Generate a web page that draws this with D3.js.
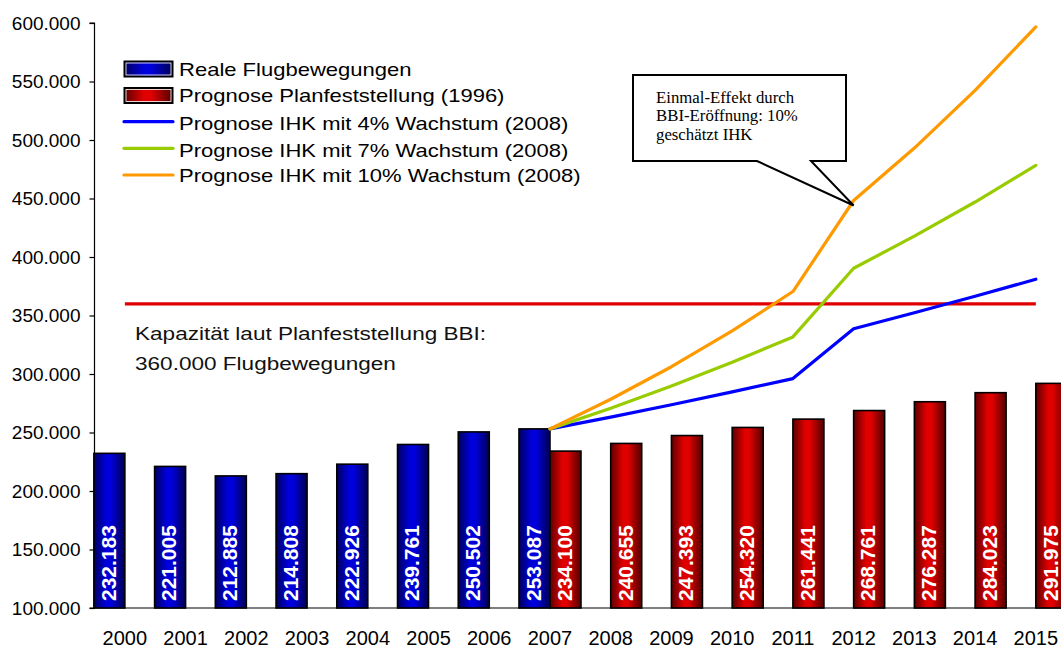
<!DOCTYPE html>
<html>
<head>
<meta charset="utf-8">
<title>Flugbewegungen BBI</title>
<script src="https://cdn.jsdelivr.net/npm/d3@7"></script>
<style>
	body { margin: 0; background: #fff; }
	svg { display: block; font-family: "Liberation Sans", Arial, sans-serif; }
</style>
</head>
<body>
<svg width="1061" height="650"></svg>
<script>
var app = app || {};

// data
var years = ["2000","2001","2002","2003","2004","2005","2006","2007",
	"2008","2009","2010","2011","2012","2013","2014","2015"];
var realMoves = [232183, 221005, 212885, 214808, 222926, 239761, 250502, 253087,
	null, null, null, null, null, null, null, null];
var planForecast = [null, null, null, null, null, null, null, 234100,
	240655, 247393, 254320, 261441, 268761, 276287, 284023, 291975];
var ihk4 = [null, null, null, null, null, null, null, 253087,
	263200, 273700, 284700, 296100, 338700, 352300, 366400, 381000];
var ihk7 = [null, null, null, null, null, null, null, 253087,
	270800, 289800, 310000, 331700, 390400, 417800, 447000, 478300];
var ihk10 = [null, null, null, null, null, null, null, 253087,
	278400, 306200, 336800, 370500, 448300, 493100, 542400, 596700];
var capacity = 360000;
var yTicks = [100000, 150000, 200000, 250000, 300000, 350000, 400000, 450000, 500000, 550000, 600000];

var legendLabels = ["Reale Flugbewegungen", "Prognose Planfeststellung (1996)",
	"Prognose IHK mit 4% Wachstum (2008)", "Prognose IHK mit 7% Wachstum (2008)",
	"Prognose IHK mit 10% Wachstum (2008)"];
var noteLines = ["Einmal-Effekt durch", "BBI-Eröffnung: 10%", "geschätzt IHK"];
var capLines = ["Kapazität laut Planfeststellung BBI:", "360.000 Flugbewegungen"];

app.main = (function(){

	var fmt = function(v){ return d3.format(",")(v).replace(/,/g, "."); };

	function drawChart(){

		var svg = d3.select("svg");

		var x = d3.scaleBand().domain(years).range([94.5, 1066.2]);
		var y = d3.scaleLinear().domain([100000, 600000]).range([608, 23]);
		var barW = 31;
		var cx = function(yr){ return x(yr) + x.bandwidth() / 2; };

		// gradients for the bars
		var defs = svg.append("defs");
		function grad(id, dark, bright){
			var g = defs.append("linearGradient").attr("id", id)
				.attr("x1", "0%").attr("x2", "100%").attr("y1", "0%").attr("y2", "0%");
			g.append("stop").attr("offset", "0%").attr("stop-color", dark);
			g.append("stop").attr("offset", "40%").attr("stop-color", bright);
			g.append("stop").attr("offset", "55%").attr("stop-color", bright);
			g.append("stop").attr("offset", "100%").attr("stop-color", d3.color(dark).darker(0.4));
		}
		grad("gBlue", "#00005e", "#0000dc");
		grad("gRed", "#5e0000", "#e00000");

		// y axis
		var yAxis = svg.append("g").attr("transform", "translate(94.5,0)")
			.call(d3.axisLeft(y).tickValues(yTicks).tickSize(5).tickPadding(9).tickFormat(fmt));
		yAxis.selectAll("text").attr("font-size", 19).attr("fill", "#000").attr("font-family", null);
		yAxis.selectAll("line,path").attr("stroke", "#000").attr("stroke-width", 1.2);
		yAxis.select(".domain").attr("d", "M-5,23H0V608H-5");

		// x axis line and labels
		svg.append("line").attr("x1", 94.5).attr("x2", 1061).attr("y1", y(100000)).attr("y2", y(100000))
			.attr("stroke", "#000").attr("stroke-width", 1.2);
		svg.append("g").selectAll("text").data(years).enter().append("text")
			.attr("x", function(d){ return cx(d); })
			.attr("y", 645)
			.attr("text-anchor", "middle")
			.attr("font-size", 20)
			.text(function(d){ return d; });

		// bars
		var realData = years.map(function(d, i){ return {yr: d, v: realMoves[i]}; })
			.filter(function(d){ return d.v !== null; });
		var planData = years.map(function(d, i){ return {yr: d, v: planForecast[i]}; })
			.filter(function(d){ return d.v !== null; });

		function bars(data, fill, offset){
			var g = svg.append("g");
			g.selectAll("rect").data(data).enter().append("rect")
				.attr("x", function(d){ return cx(d.yr) + offset; })
				.attr("y", function(d){ return y(d.v); })
				.attr("width", barW)
				.attr("height", function(d){ return y(100000) - y(d.v); })
				.attr("fill", fill)
				.attr("stroke", "#000")
				.attr("stroke-width", 1.6);
			g.selectAll("text").data(data).enter().append("text")
				.attr("transform", function(d){
					return "translate(" + (cx(d.yr) + offset + barW / 2 + 6.3) + ",601) rotate(-90)";
				})
				.attr("fill", "#fff")
				.attr("font-weight", "bold")
				.attr("font-size", 21)
				.text(function(d){ return fmt(d.v); });
		}
		bars(realData, "url(#gBlue)", -barW);
		bars(planData, "url(#gRed)", 0);

		// capacity line
		svg.append("line")
			.attr("x1", cx(years[0])).attr("x2", cx(years[years.length - 1]))
			.attr("y1", y(capacity)).attr("y2", y(capacity))
			.attr("stroke", "#e00000").attr("stroke-width", 3.2);

		// forecast lines
		var series = [
			{vals: ihk4, color: "#0000ff"},
			{vals: ihk7, color: "#99cc00"},
			{vals: ihk10, color: "#ff9900"}
		];
		var line = d3.line()
			.defined(function(d){ return d.v !== null; })
			.x(function(d){ return cx(d.yr); })
			.y(function(d){ return y(d.v); });
		series.forEach(function(s){
			svg.append("path")
				.datum(years.map(function(d, i){ return {yr: d, v: s.vals[i]}; }))
				.attr("d", line)
				.attr("fill", "none")
				.attr("stroke", s.color)
				.attr("stroke-width", 3.2)
				.attr("stroke-linejoin", "round")
				.attr("stroke-linecap", "round");
		});

		// capacity text
		svg.append("g").selectAll("text").data(capLines).enter().append("text")
			.attr("transform", function(d, i){ return "translate(135," + (340 + i * 30) + ") scale(1.22,1)"; })
			.attr("font-size", 18.5)
			.attr("fill", "#111")
			.text(function(d){ return d; });

		// legend
		var lg = svg.append("g");
		var swY = [69, 95.5, 121.7, 148.3, 175];
		var txY = [75.7, 102.3, 130, 156.7, 181.7];
		[["url(#gBlue)"], ["url(#gRed)"]].forEach(function(f, i){
			lg.append("rect").attr("x", 124.5).attr("y", swY[i] - 7.5).attr("width", 48).attr("height", 15)
				.attr("fill", f[0]).attr("stroke", "#000").attr("stroke-width", 2);
			lg.append("rect").attr("x", 126).attr("y", swY[i] - 6).attr("width", 45).attr("height", 12)
				.attr("fill", "none").attr("stroke", "#fff").attr("stroke-width", 0.8);
		});
		series.forEach(function(s, i){
			lg.append("line").attr("x1", 124).attr("x2", 173)
				.attr("y1", swY[i + 2]).attr("y2", swY[i + 2])
				.attr("stroke", s.color).attr("stroke-width", 3.2).attr("stroke-linecap", "round");
		});
		lg.selectAll("text").data(legendLabels).enter().append("text")
			.attr("transform", function(d, i){ return "translate(179," + txY[i] + ") scale(1.19,1)"; })
			.attr("font-size", 18.5)
			.text(function(d){ return d; });

		// callout box pointing at the 2012 jump
		var tipX = cx("2012"), tipY = y(ihk10[12]) + 5;
		svg.append("path")
			.attr("d", "M633,75H846V161H811L" + tipX + "," + tipY + "L757,161H633Z")
			.attr("fill", "#fff").attr("stroke", "#000").attr("stroke-width", 2);
		svg.append("g").selectAll("text").data(noteLines).enter().append("text")
			.attr("x", 656)
			.attr("y", function(d, i){ return 102.7 + i * 18.4; })
			.attr("font-family", "'Liberation Serif', 'Times New Roman', serif")
			.attr("font-size", 16.8)
			.text(function(d){ return d; });
	}

	var init = function(){
		drawChart();
	};

	return {
		init: init
	};
})();

window.addEventListener('DOMContentLoaded', app.main.init);
</script>
</body>
</html>
